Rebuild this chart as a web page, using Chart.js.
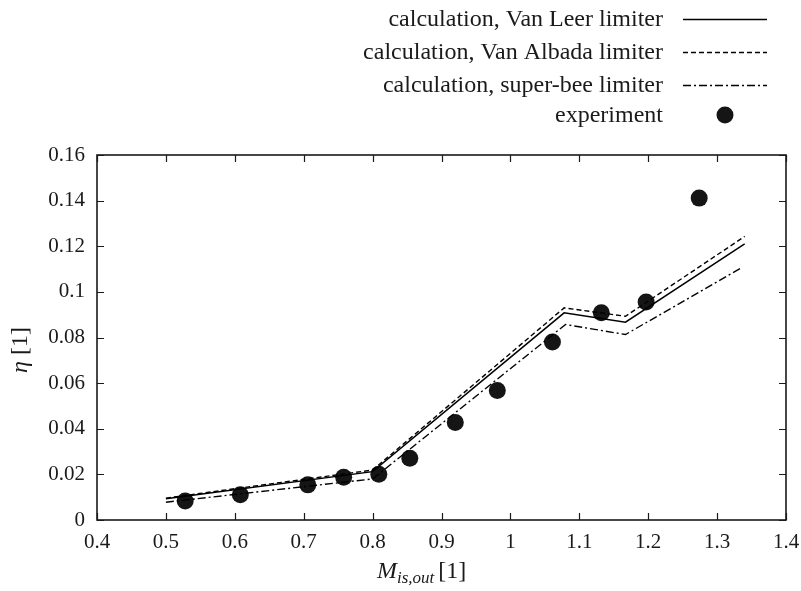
<!DOCTYPE html>
<html>
<head>
<meta charset="utf-8">
<script src="https://cdn.jsdelivr.net/npm/chart.js@4.4.1/dist/chart.umd.min.js"></script>
<style>
  html, body { margin: 0; padding: 0; background: #fff; }
  #wrap { width: 801px; height: 591px; }
</style>
</head>
<body>
<div id="wrap"><canvas id="chart"></canvas></div>
<script>
// Data
const calcM = [0.5, 0.8, 1.078, 1.167, 1.34];
const vanLeer = [0.0093, 0.0212, 0.0908, 0.0867, 0.1210];
const vanAlbada = [0.0096, 0.0219, 0.0930, 0.0893, 0.1243];
const superBeeM = [0.5, 0.8, 1.08, 1.167, 1.335];
const superBee = [0.0078, 0.0180, 0.0857, 0.0813, 0.1105];
const expM = [0.528, 0.608, 0.706, 0.758, 0.809, 0.854, 0.920, 0.981, 1.061, 1.132, 1.197, 1.274];
const expEta = [0.0083, 0.0111, 0.0154, 0.0187, 0.0201, 0.0271, 0.0427, 0.0568, 0.0780, 0.0908, 0.0956, 0.1411];
const xTicks = [0.4, 0.5, 0.6, 0.7, 0.8, 0.9, 1, 1.1, 1.2, 1.3, 1.4];
const yTicks = [0, 0.02, 0.04, 0.06, 0.08, 0.1, 0.12, 0.14, 0.16];

const SERIF = "'Liberation Serif', 'Times New Roman', serif";
const INK = '#1a1a1a';

function toPoints(xs, ys) {
    return xs.map((x, i) => ({ x: x, y: ys[i] }));
}

// frame with inward ticks, legend and axis titles
const decorPlugin = {
    id: 'decor',
    afterDraw(chart) {
        const ctx = chart.ctx;
        const a = chart.chartArea;
        const sx = chart.scales.x, sy = chart.scales.y;
        const tl = 7;
        ctx.save();
        ctx.strokeStyle = INK;
        ctx.lineWidth = 1.6;
        ctx.setLineDash([]);
        ctx.strokeRect(a.left, a.top, a.right - a.left, a.bottom - a.top);
        ctx.lineWidth = 1.2;
        ctx.beginPath();
        xTicks.forEach(v => {
            const px = Math.round(sx.getPixelForValue(v)) + 0.5;
            ctx.moveTo(px, a.bottom); ctx.lineTo(px, a.bottom - tl);
            ctx.moveTo(px, a.top); ctx.lineTo(px, a.top + tl);
        });
        yTicks.forEach(v => {
            const py = Math.round(sy.getPixelForValue(v)) + 0.5;
            ctx.moveTo(a.left, py); ctx.lineTo(a.left + tl, py);
            ctx.moveTo(a.right, py); ctx.lineTo(a.right - tl, py);
        });
        ctx.stroke();

        // legend
        const rows = [19, 52, 85, 115];
        ctx.font = '24px ' + SERIF;
        ctx.fillStyle = INK;
        ctx.textAlign = 'right';
        ctx.textBaseline = 'middle';
        chart.data.datasets.forEach((ds, i) => {
            const y = rows[i];
            ctx.fillText(ds.label, 663, y + 1);
            if (ds.showLine) {
                ctx.strokeStyle = '#000';
                ctx.lineWidth = ds.borderWidth;
                ctx.setLineDash(ds.borderDash || []);
                ctx.beginPath();
                ctx.moveTo(683, y + 0.5);
                ctx.lineTo(767, y + 0.5);
                ctx.stroke();
                ctx.setLineDash([]);
            } else {
                ctx.beginPath();
                ctx.arc(725, y, ds.pointRadius, 0, Math.PI * 2);
                ctx.fillStyle = ds.backgroundColor;
                ctx.fill();
                ctx.fillStyle = INK;
            }
        });

        // x axis title: M_is,out [1]
        ctx.textAlign = 'left';
        ctx.textBaseline = 'alphabetic';
        let x = 377;
        ctx.font = 'italic 24px ' + SERIF;
        ctx.fillText('M', x, 578);
        x += ctx.measureText('M').width;
        ctx.font = 'italic 17px ' + SERIF;
        ctx.fillText('is,out', x, 583);
        x += ctx.measureText('is,out').width + 4;
        ctx.font = '24px ' + SERIF;
        ctx.fillText('[1]', x, 578);

        // y axis title: eta [1]
        ctx.translate(27, 350);
        ctx.rotate(-Math.PI / 2);
        ctx.font = 'italic 24px ' + SERIF;
        const w1 = ctx.measureText('η').width;
        ctx.font = '24px ' + SERIF;
        const w2 = ctx.measureText(' [1]').width;
        let tx = -(w1 + w2) / 2;
        ctx.font = 'italic 24px ' + SERIF;
        ctx.fillText('η', tx, 0);
        ctx.font = '24px ' + SERIF;
        ctx.fillText(' [1]', tx + w1, 0);
        ctx.restore();
    }
};

const ctx = document.getElementById('chart').getContext('2d');
const chart = new Chart(ctx, {
    type: 'scatter',
    data: {
        datasets: [
            {
                label: 'calculation, Van Leer limiter',
                data: toPoints(calcM, vanLeer),
                showLine: true,
                borderColor: '#000',
                borderWidth: 1.5,
                pointRadius: 0,
                pointHoverRadius: 0
            },
            {
                label: 'calculation, Van Albada limiter',
                data: toPoints(calcM, vanAlbada),
                showLine: true,
                borderColor: '#000',
                borderWidth: 1.4,
                borderDash: [5, 3],
                pointRadius: 0,
                pointHoverRadius: 0
            },
            {
                label: 'calculation, super-bee limiter',
                data: toPoints(superBeeM, superBee),
                showLine: true,
                borderColor: '#000',
                borderWidth: 1.4,
                borderDash: [8, 3, 2, 3],
                pointRadius: 0,
                pointHoverRadius: 0
            },
            {
                label: 'experiment',
                data: toPoints(expM, expEta),
                showLine: false,
                backgroundColor: '#151515',
                borderWidth: 0,
                pointRadius: 8.5,
                pointHoverRadius: 8.5
            }
        ]
    },
    options: {
        responsive: true,
        maintainAspectRatio: false,
        animation: false,
        layout: { padding: { left: 0, top: 155, right: 15, bottom: 0 } },
        plugins: {
            legend: { display: false },
            tooltip: { enabled: false }
        },
        scales: {
            x: {
                type: 'linear',
                min: 0.4,
                max: 1.4,
                afterFit: s => { s.height = 71; s.paddingLeft = 0; s.paddingRight = 0; },
                afterBuildTicks: s => { s.ticks = xTicks.map(v => ({ value: v })); },
                grid: { display: false, drawTicks: false },
                border: { display: false },
                ticks: {
                    padding: 10,
                    color: INK,
                    font: { family: SERIF, size: 21 },
                    maxRotation: 0,
                    callback: v => String(+v.toFixed(2))
                }
            },
            y: {
                type: 'linear',
                min: 0,
                max: 0.16,
                afterFit: s => { s.width = 97; s.paddingTop = 0; s.paddingBottom = 0; },
                afterBuildTicks: s => { s.ticks = yTicks.map(v => ({ value: v })); },
                grid: { display: false, drawTicks: false },
                border: { display: false },
                ticks: {
                    padding: 12,
                    color: INK,
                    font: { family: SERIF, size: 21 },
                    callback: v => String(+v.toFixed(2))
                }
            }
        }
    },
    plugins: [decorPlugin]
});
</script>
</body>
</html>
